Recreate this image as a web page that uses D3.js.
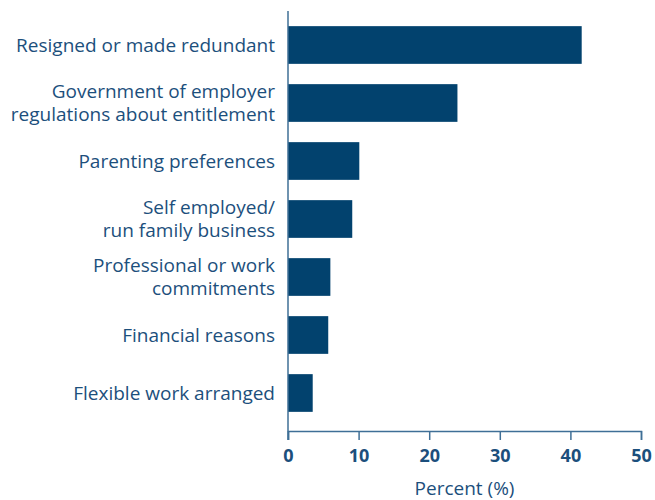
<!DOCTYPE html>
<html>
<head>
<meta charset="utf-8">
<script src="https://cdn.jsdelivr.net/npm/d3@7"></script>
<style>
  body { margin: 0; background: #fff; }
  text { font-family: "Open Sans", "Noto Sans", sans-serif; }
</style>
</head>
<body>
<div id="chart"></div>
<script>
const categories = [
    ["Resigned or made redundant"],
    ["Government of employer", "regulations about entitlement"],
    ["Parenting preferences"],
    ["Self employed/", "run family business"],
    ["Professional or work", "commitments"],
    ["Financial reasons"],
    ["Flexible work arranged"]
];
const values = [41.6, 24.0, 10.1, 9.1, 6.0, 5.7, 3.5];
const xTicks = [0, 10, 20, 30, 40, 50];

const width = 655, height = 500;
const plot = { left: 288, right: 641, top: 16, bottom: 422, axisY: 431 };

const barColor = "#02426e";
const textColor = "#1c4f7c";
const axisColor = "#3f6f96";

const svg = d3.select("#chart")
    .append("svg")
    .attr("width", width)
    .attr("height", height);

const x = d3.scaleLinear().domain([0, 50]).range([plot.left, plot.right]);
const y = d3.scaleBand()
    .domain(d3.range(categories.length))
    .range([plot.top, plot.bottom])
    .paddingInner(0.35)
    .paddingOuter(0.175);

// bars
svg.selectAll(".bar")
    .data(values)
    .enter().append("rect")
    .attr("class", "bar")
    .attr("x", x(0))
    .attr("y", (d, i) => y(i))
    .attr("width", d => x(d) - x(0))
    .attr("height", y.bandwidth())
    .attr("fill", barColor);

// y axis line
svg.append("line")
    .attr("x1", x(0)).attr("x2", x(0))
    .attr("y1", 11).attr("y2", plot.axisY + 9)
    .attr("stroke", axisColor)
    .attr("stroke-width", 1.5);

// x axis
const xAxis = svg.append("g")
    .attr("transform", `translate(0,${plot.axisY})`)
    .call(d3.axisBottom(x).tickValues(xTicks).tickSize(9).tickPadding(9));
xAxis.select(".domain").attr("stroke", axisColor).attr("stroke-width", 1.5);
xAxis.selectAll(".tick line").attr("stroke", axisColor).attr("stroke-width", 1.5);
xAxis.selectAll(".tick text")
    .attr("fill", textColor)
    .attr("font-size", 18)
    .attr("font-weight", "bold")
    .attr("font-family", "Open Sans, sans-serif");

// category labels
const lineH = 23;
const labels = svg.selectAll(".label")
    .data(categories)
    .enter().append("text")
    .attr("class", "label")
    .attr("text-anchor", "end")
    .attr("fill", textColor)
    .attr("font-size", 19)
    .attr("transform", (d, i) => `translate(275,${y(i) + y.bandwidth() / 2})`);

labels.selectAll("tspan")
    .data(d => d.map((t, j) => ({ t, j, n: d.length })))
    .enter().append("tspan")
    .attr("x", 0)
    .attr("y", d => (d.j - (d.n - 1) / 2) * lineH)
    .attr("dy", "0.36em")
    .text(d => d.t);

// x axis title
svg.append("text")
    .attr("x", (plot.left + plot.right) / 2)
    .attr("y", 495)
    .attr("text-anchor", "middle")
    .attr("fill", textColor)
    .attr("font-size", 19)
    .text("Percent (%)");
</script>
</body>
</html>
